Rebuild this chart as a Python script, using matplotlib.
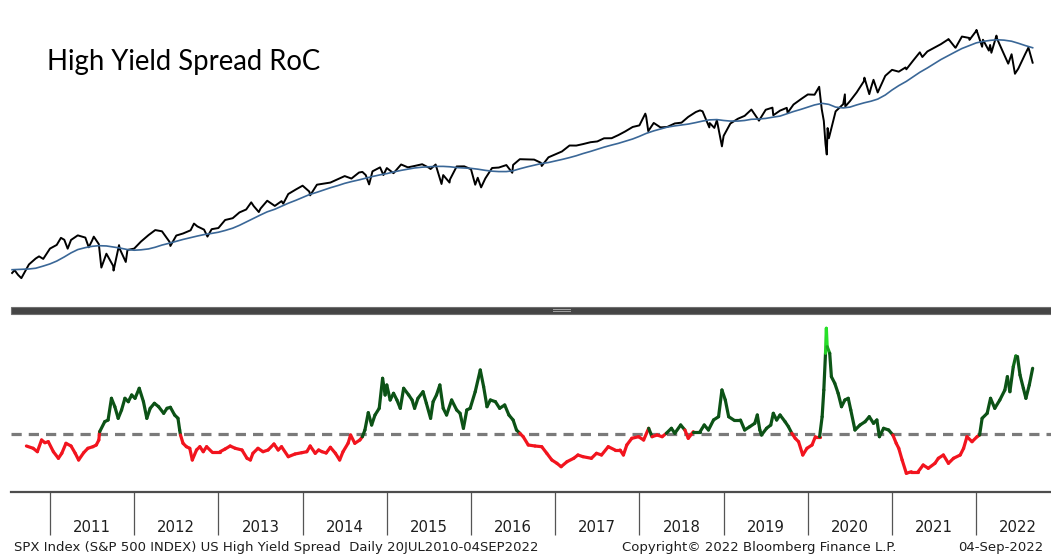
import matplotlib
matplotlib.use("Agg")
import matplotlib.pyplot as plt
import matplotlib.colors as mcolors
from matplotlib.collections import LineCollection
from matplotlib.patches import Rectangle
from matplotlib.transforms import blended_transform_factory
import numpy as np

# SPX Index (decimal year, price)
spx = [
	(2010.55, 1083), (2010.58, 1101.6), (2010.62, 1071), (2010.66, 1049.3), (2010.75, 1141.2), (2010.83, 1183.3),
	(2010.87, 1199), (2010.92, 1180.6), (2011.00, 1257.6),
	(2011.08, 1286.1), (2011.13, 1343), (2011.17, 1327.2), (2011.21, 1256.9), (2011.25, 1325.8), (2011.33, 1363.6),
	(2011.42, 1345.2), (2011.46, 1267.6), (2011.50, 1320.6), (2011.52, 1353), (2011.58, 1292.3), (2011.61, 1119.5),
	(2011.67, 1218.9), (2011.75, 1131.4), (2011.755, 1099.2), (2011.82, 1284.6), (2011.83, 1253.3), (2011.90, 1158.7),
	(2011.92, 1247), (2012.00, 1257.6),
	(2012.08, 1312.4), (2012.17, 1365.7), (2012.25, 1408.5), (2012.33, 1397.9), (2012.42, 1310.3), (2012.43, 1278),
	(2012.50, 1362.2), (2012.58, 1379.3), (2012.67, 1406.6), (2012.71, 1465.8), (2012.75, 1440.7), (2012.83, 1412.2),
	(2012.87, 1353.3), (2012.92, 1416.2), (2013.00, 1426.2),
	(2013.08, 1498.1), (2013.17, 1514.7), (2013.25, 1569.2), (2013.33, 1597.6), (2013.39, 1669), (2013.42, 1630.7),
	(2013.48, 1573), (2013.50, 1606.3), (2013.58, 1685.7), (2013.67, 1633), (2013.75, 1681.6), (2013.77, 1655.5),
	(2013.83, 1756.5), (2013.92, 1805.8), (2014.00, 1848.4),
	(2014.08, 1782.6), (2014.09, 1741.9), (2014.17, 1859.5), (2014.25, 1872.3), (2014.33, 1883.9), (2014.42, 1923.6),
	(2014.50, 1960.2), (2014.58, 1930.7), (2014.67, 2003.4), (2014.71, 2011), (2014.75, 1972.3), (2014.79, 1862.5),
	(2014.83, 2018.1), (2014.92, 2067.6), (2014.96, 1972.7), (2015.00, 2058.9),
	(2015.08, 1995), (2015.17, 2104.5), (2015.25, 2067.9), (2015.33, 2085.5), (2015.42, 2107.4), (2015.50, 2063.1),
	(2015.52, 2046.7), (2015.58, 2103.8), (2015.65, 1867.6), (2015.67, 1972.2), (2015.745, 1884.1), (2015.75, 1920),
	(2015.83, 2079.4), (2015.92, 2080.4), (2016.00, 2043.9),
	(2016.05, 1859.3), (2016.08, 1940.2), (2016.12, 1829.1), (2016.17, 1932.2), (2016.25, 2059.7), (2016.33, 2065.3),
	(2016.42, 2097), (2016.49, 2000.5), (2016.50, 2098.9), (2016.58, 2173.6), (2016.67, 2171), (2016.75, 2168.3),
	(2016.83, 2126.2), (2016.84, 2085.2), (2016.92, 2198.8), (2017.00, 2238.8),
	(2017.08, 2278.9), (2017.17, 2363.6), (2017.25, 2362.7), (2017.33, 2384.2), (2017.42, 2411.8), (2017.50, 2423.4),
	(2017.58, 2470.3), (2017.67, 2471.7), (2017.75, 2519.4), (2017.83, 2575.3), (2017.92, 2647.6), (2018.00, 2673.6),
	(2018.07, 2872.9), (2018.08, 2823.8), (2018.105, 2581), (2018.17, 2713.8), (2018.25, 2640.9), (2018.33, 2648.1),
	(2018.42, 2705.3), (2018.50, 2718.4), (2018.58, 2816.3), (2018.67, 2901.5), (2018.72, 2930.8), (2018.75, 2914),
	(2018.83, 2641), (2018.835, 2711.7), (2018.89, 2632.6), (2018.92, 2760.2), (2018.98, 2351.1), (2019.00, 2506.9),
	(2019.08, 2704.1), (2019.17, 2784.5), (2019.25, 2834.4), (2019.33, 2945.8), (2019.42, 2752.1), (2019.50, 2941.8),
	(2019.58, 2980.4), (2019.59, 2844.7), (2019.67, 2926.5), (2019.75, 2976.7), (2019.76, 2887.6), (2019.83, 3037.6),
	(2019.92, 3141), (2020.00, 3230.8),
	(2020.08, 3225.5), (2020.135, 3386.2), (2020.165, 2954.2), (2020.19, 2746.6), (2020.21, 2386.1), (2020.225, 2237.4),
	(2020.235, 2630), (2020.25, 2470.5), (2020.33, 2912.4), (2020.42, 3044.3), (2020.44, 3232.4), (2020.445, 3002),
	(2020.50, 3100.3), (2020.58, 3271.1), (2020.665, 3500.3), (2020.672, 3580.8), (2020.73, 3236.9), (2020.75, 3363),
	(2020.78, 3534), (2020.83, 3270), (2020.92, 3621.6), (2021.00, 3756.1),
	(2021.08, 3714.2), (2021.16, 3811.2), (2021.17, 3768.5), (2021.25, 3972.9), (2021.33, 4181.2), (2021.36, 4063),
	(2021.42, 4204.1), (2021.50, 4297.5), (2021.58, 4395.3), (2021.665, 4522.7), (2021.67, 4537), (2021.75, 4307.5),
	(2021.755, 4300.5), (2021.83, 4605.4), (2021.915, 4567), (2021.92, 4513), (2022.00, 4766.2),
	(2022.003, 4796.6), (2022.07, 4326.5), (2022.08, 4515.6), (2022.15, 4225.5), (2022.165, 4373.9), (2022.18, 4170.7),
	(2022.24, 4631.6), (2022.25, 4530.4), (2022.33, 4132), (2022.38, 3901), (2022.42, 4132.2), (2022.46, 3666.8),
	(2022.50, 3785.4), (2022.58, 4130.3), (2022.62, 4305.2), (2022.665, 3955), (2022.67, 3924.3),
]

# moving average of SPX (decimal year, level)
spx_ma = [
	(2010.55, 1105), (2010.67, 1108), (2010.75, 1110), (2010.83, 1115), (2010.92, 1130), (2011.00, 1145),
	(2011.08, 1165), (2011.17, 1195), (2011.25, 1225), (2011.33, 1250), (2011.42, 1265), (2011.50, 1275),
	(2011.58, 1280), (2011.67, 1278), (2011.75, 1270), (2011.83, 1262), (2011.92, 1250), (2012.00, 1245),
	(2012.08, 1248), (2012.17, 1255), (2012.25, 1268), (2012.33, 1285), (2012.42, 1300), (2012.50, 1315),
	(2012.58, 1330), (2012.67, 1345), (2012.75, 1358), (2012.83, 1370), (2012.92, 1380), (2013.00, 1390),
	(2013.08, 1405), (2013.17, 1425), (2013.25, 1450), (2013.33, 1480), (2013.42, 1515), (2013.50, 1545),
	(2013.58, 1575), (2013.67, 1600), (2013.75, 1630), (2013.83, 1660), (2013.92, 1690), (2014.00, 1720),
	(2014.08, 1750), (2014.17, 1775), (2014.25, 1800), (2014.33, 1825), (2014.42, 1850), (2014.50, 1875),
	(2014.58, 1895), (2014.67, 1915), (2014.75, 1935), (2014.83, 1955), (2014.92, 1975), (2015.00, 1990),
	(2015.08, 2010), (2015.17, 2030), (2015.25, 2045), (2015.33, 2060), (2015.42, 2070), (2015.50, 2075),
	(2015.58, 2080), (2015.67, 2080), (2015.75, 2075), (2015.83, 2065), (2015.92, 2060), (2016.00, 2055),
	(2016.08, 2045), (2016.17, 2030), (2016.25, 2020), (2016.33, 2015), (2016.42, 2015), (2016.50, 2025),
	(2016.58, 2050), (2016.67, 2075), (2016.75, 2095), (2016.83, 2115), (2016.92, 2130), (2017.00, 2150),
	(2017.08, 2170), (2017.17, 2195), (2017.25, 2220), (2017.33, 2250), (2017.42, 2280), (2017.50, 2310),
	(2017.58, 2340), (2017.67, 2370), (2017.75, 2395), (2017.83, 2425), (2017.92, 2460), (2018.00, 2500),
	(2018.08, 2545), (2018.17, 2585), (2018.25, 2615), (2018.33, 2645), (2018.42, 2665), (2018.50, 2680),
	(2018.58, 2695), (2018.67, 2720), (2018.75, 2745), (2018.83, 2765), (2018.92, 2770), (2019.00, 2755),
	(2019.08, 2745), (2019.17, 2745), (2019.25, 2755), (2019.33, 2775), (2019.42, 2780), (2019.50, 2790),
	(2019.58, 2810), (2019.67, 2830), (2019.75, 2870), (2019.83, 2910), (2019.92, 2950), (2020.00, 2990),
	(2020.08, 3030), (2020.17, 3060), (2020.25, 3040), (2020.33, 2990), (2020.42, 2975), (2020.50, 2990),
	(2020.58, 3030), (2020.67, 3070), (2020.75, 3100), (2020.83, 3140), (2020.92, 3220), (2021.00, 3320),
	(2021.08, 3410), (2021.17, 3500), (2021.25, 3600), (2021.33, 3700), (2021.42, 3800), (2021.50, 3900),
	(2021.58, 4000), (2021.67, 4100), (2021.75, 4190), (2021.83, 4280), (2021.92, 4360), (2022.00, 4430),
	(2022.08, 4470), (2022.17, 4500), (2022.25, 4515), (2022.33, 4505), (2022.42, 4475), (2022.50, 4420),
	(2022.58, 4360), (2022.67, 4300),
]

# High yield spread rate of change (decimal year, value); 0 = signal line
hy_roc = [
	(2010.72, -1.2), (2010.80, -1.43), (2010.85, -1.77), (2010.90, -0.6), (2010.94, -0.87), (2010.98, -0.77),
	(2011.04, -1.77), (2011.10, -2.43), (2011.14, -1.93), (2011.19, -0.93), (2011.25, -1.2), (2011.30, -1.93),
	(2011.34, -2.6), (2011.40, -1.87), (2011.45, -1.43), (2011.51, -1.27), (2011.55, -1.1), (2011.58, -0.6),
	(2011.59, 0.23), (2011.65, 1.23), (2011.69, 1.4), (2011.73, 3.57), (2011.77, 2.73), (2011.81, 1.57),
	(2011.85, 2.4), (2011.89, 3.57), (2011.93, 3.23), (2011.97, 3.9),
	(2012.01, 3.57), (2012.06, 4.57), (2012.11, 3.23), (2012.15, 1.57), (2012.19, 2.57), (2012.24, 3.07),
	(2012.29, 2.73), (2012.35, 2.07), (2012.39, 2.57), (2012.43, 2.67), (2012.48, 1.9), (2012.52, 1.57),
	(2012.54, 0.4), (2012.55, -0.1), (2012.58, -0.93), (2012.62, -1.27), (2012.66, -1.43), (2012.69, -2.6),
	(2012.74, -1.6), (2012.78, -1.27), (2012.82, -1.77), (2012.86, -1.27), (2012.92, -1.77),
	(2013.02, -1.77), (2013.08, -1.5), (2013.14, -1.2), (2013.20, -1.43), (2013.28, -1.6), (2013.34, -2.43),
	(2013.38, -2.6), (2013.41, -1.93), (2013.47, -1.43), (2013.53, -1.77), (2013.59, -1.6), (2013.66, -1.0),
	(2013.71, -1.6), (2013.75, -1.27), (2013.83, -2.27), (2013.91, -2.0), (2013.99, -1.87),
	(2014.05, -1.77), (2014.09, -1.2), (2014.15, -1.93), (2014.19, -1.6), (2014.23, -1.77), (2014.28, -1.9),
	(2014.33, -1.33), (2014.39, -1.93), (2014.44, -2.6), (2014.48, -1.77), (2014.54, -0.93), (2014.57, -0.1),
	(2014.62, -0.93), (2014.68, -0.6), (2014.71, -0.27), (2014.74, 0.4), (2014.78, 2.13), (2014.82, 0.9),
	(2014.86, 1.9), (2014.91, 2.57), (2014.95, 5.57), (2014.98, 3.9),
	(2015.00, 4.9), (2015.04, 3.4), (2015.08, 4.07), (2015.12, 3.4), (2015.16, 2.57), (2015.20, 4.57),
	(2015.26, 3.9), (2015.30, 3.4), (2015.33, 2.57), (2015.37, 3.57), (2015.43, 4.23), (2015.47, 3.07),
	(2015.52, 1.57), (2015.55, 3.23), (2015.59, 3.9), (2015.63, 4.9), (2015.67, 2.57), (2015.71, 1.9),
	(2015.77, 3.4), (2015.83, 2.4), (2015.87, 2.07), (2015.91, 0.57), (2015.95, 2.4), (2015.99, 2.57),
	(2016.05, 4.23), (2016.11, 6.4), (2016.15, 4.73), (2016.19, 2.73), (2016.23, 3.4), (2016.29, 3.23),
	(2016.34, 2.57), (2016.40, 2.9), (2016.45, 1.9), (2016.50, 1.4), (2016.54, 0.4), (2016.58, 0.07),
	(2016.62, -0.27), (2016.68, -1.1), (2016.76, -1.2), (2016.84, -1.27), (2016.90, -1.93), (2016.96, -2.6),
	(2017.02, -2.93), (2017.07, -3.27), (2017.14, -2.77), (2017.22, -2.43), (2017.27, -2.1), (2017.33, -2.27),
	(2017.43, -2.43), (2017.49, -1.93), (2017.55, -2.1), (2017.63, -1.27), (2017.71, -1.6), (2017.77, -1.6),
	(2017.81, -2.1), (2017.85, -1.1), (2017.91, -0.43), (2017.99, -0.27),
	(2018.05, -0.6), (2018.11, 0.57), (2018.15, -0.27), (2018.21, -0.1), (2018.27, -0.27), (2018.32, 0.07),
	(2018.38, 0.57), (2018.42, 0.07), (2018.49, 0.9), (2018.54, 0.4), (2018.58, -0.43), (2018.64, 0.23),
	(2018.72, 0.23), (2018.77, 0.9), (2018.82, 0.4), (2018.88, 1.4), (2018.94, 1.73), (2018.98, 4.4),
	(2019.02, 3.4), (2019.06, 1.73), (2019.12, 1.4), (2019.20, 1.4), (2019.25, 0.4), (2019.31, 0.73),
	(2019.37, 1.07), (2019.40, 1.9), (2019.43, 0.4), (2019.45, -0.1), (2019.51, 0.57), (2019.56, 0.9),
	(2019.59, 2.07), (2019.63, 1.4), (2019.67, 1.9), (2019.73, 1.23), (2019.77, 0.73), (2019.81, 0.07),
	(2019.85, -0.43), (2019.89, -0.77), (2019.94, -2.1), (2019.99, -1.43),
	(2020.05, -1.1), (2020.09, -0.27), (2020.14, -0.27), (2020.17, 1.73), (2020.19, 4.4), (2020.21, 8.07),
	(2020.22, 10.57), (2020.23, 8.73), (2020.26, 8.07), (2020.28, 5.73), (2020.32, 5.07), (2020.36, 4.07),
	(2020.40, 2.73), (2020.44, 3.4), (2020.48, 3.57), (2020.51, 2.4), (2020.56, 0.4), (2020.62, 0.9),
	(2020.68, 1.23), (2020.73, 1.73), (2020.78, 1.07), (2020.82, 1.4), (2020.85, -0.27), (2020.90, 0.57),
	(2020.96, 0.4),
	(2021.01, -0.1), (2021.05, -0.93), (2021.08, -1.43), (2021.12, -2.6), (2021.17, -3.93), (2021.23, -3.77),
	(2021.31, -3.77), (2021.37, -3.1), (2021.43, -3.43), (2021.51, -2.93), (2021.55, -2.43), (2021.61, -2.1),
	(2021.67, -2.93), (2021.73, -2.43), (2021.81, -2.1), (2021.85, -1.43), (2021.89, -0.27), (2021.95, -0.77),
	(2022.01, -0.27), (2022.04, -0.1), (2022.07, 1.57), (2022.13, 2.07), (2022.17, 3.57), (2022.22, 2.57),
	(2022.28, 3.4), (2022.34, 4.4), (2022.37, 5.73), (2022.40, 4.23), (2022.44, 6.73), (2022.47, 7.8),
	(2022.49, 7.73), (2022.52, 5.9), (2022.56, 4.57), (2022.59, 3.57), (2022.63, 4.9), (2022.67, 6.57),
]

years = list(range(2011, 2023))
title = "High Yield Spread RoC"
footer_left = "SPX Index (S&P 500 INDEX) US High Yield Spread  Daily 20JUL2010-04SEP2022"
footer_mid = "Copyright\u00a9 2022 Bloomberg Finance L.P."
footer_right = "04-Sep-2022"

W, H = 1051, 555
fig = plt.figure(figsize=(W / 100, H / 100), dpi=100)
fig.patch.set_facecolor("white")

def fx(px):
	return px / W

def fy(py):
	return 1 - py / H

xlim = (2010.537, 2022.888)

# price panel
ax_top = fig.add_axes([fx(11), fy(300), fx(1040), 300 / H])
ax_top.set_yscale("log")
t, v = zip(*spx)
ax_top.plot(t, v, color="black", lw=1.4, solid_joinstyle="round")
t, v = zip(*spx_ma)
ax_top.plot(t, v, color="#3a6797", lw=1.2)
ax_top.set_xlim(*xlim)
ax_top.set_ylim(918, 5760)
ax_top.axis("off")
fig.text(fx(47), fy(70), title, fontsize=19.8, family="Lato", color="black", va="baseline", ha="left")

# splitter bar
fig.add_artist(Rectangle((fx(11), fy(314)), fx(1040), 7 / H, transform=fig.transFigure,
	facecolor="#454545", edgecolor="#707070", lw=0.8))
for dy in (309.5, 311.5):
	fig.add_artist(Rectangle((fx(553), fy(dy)), fx(18), 0.8 / H, transform=fig.transFigure,
		facecolor="#a0a0a0", edgecolor="none"))

# rate of change panel
ax = fig.add_axes([fx(11), fy(492), fx(1040), (492 - 318) / H])
ax.set_xlim(*xlim)
ax.set_ylim(-5.8, 11.6)
ax.axhline(0, color="#7a7a7a", lw=2.3, dashes=(3.2, 2.2), zorder=1)

t, v = (np.array(a) for a in zip(*hy_roc))
pts = np.column_stack([t, v])
segs = np.stack([pts[:-1], pts[1:]], axis=1)
mid = (v[:-1] + v[1:]) / 2
dark = np.array(mcolors.to_rgb("#0c5216"))
bright = np.array(mcolors.to_rgb("#2af22a"))
red = mcolors.to_rgb("#f2141e")
cols = []
for m in mid:
	if m < 0:
		cols.append(red)
	else:
		k = np.clip((m - 6.8) / 3.2, 0, 1)
		cols.append(tuple(dark * (1 - k) + bright * k))
lc = LineCollection(segs, colors=cols, linewidths=2.3, capstyle="round", joinstyle="round", zorder=2)
ax.add_collection(lc)

for s in ("top", "left", "right"):
	ax.spines[s].set_visible(False)
ax.spines["bottom"].set_color("#4d4d4d")
ax.spines["bottom"].set_linewidth(1.6)
ax.set_yticks([])
ax.set_xticks(years)
ax.tick_params(axis="x", length=31, width=0.9, color="#555555", labelbottom=False, direction="out")

tr = blended_transform_factory(ax.transData, fig.transFigure)
for yr in years:
	ax.text(yr + 0.5, fy(527), str(yr), transform=tr, ha="center", va="center", fontsize=10.7,
		color="#1e1e1e", family="DejaVu Sans")

fig.text(fx(14), fy(548), footer_left, fontsize=9.5, color="#1e1e1e", va="center", ha="left", family="DejaVu Sans")
fig.text(fx(759), fy(548), footer_mid, fontsize=9.5, color="#1e1e1e", va="center", ha="center", family="DejaVu Sans")
fig.text(fx(1043), fy(548), footer_right, fontsize=9.5, color="#1e1e1e", va="center", ha="right", family="DejaVu Sans")

fig.savefig("out.png", dpi=100)
